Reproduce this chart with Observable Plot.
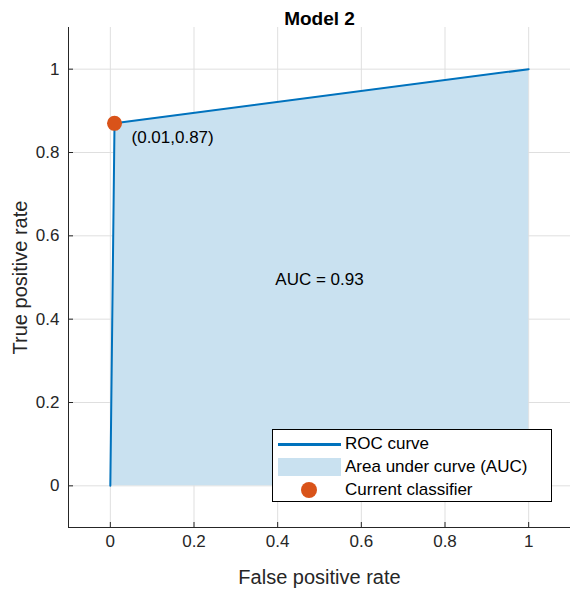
<!DOCTYPE html>
<html><head><meta charset="utf-8">
<script src="https://cdn.jsdelivr.net/npm/d3@7"></script>
<script src="https://cdn.jsdelivr.net/npm/@observablehq/plot@0.6"></script>
<style>
body{margin:0;font-family:"Liberation Sans",Arial,sans-serif;background:#fff;overflow:hidden}
#wrap{position:relative;width:572px;height:595px}
#legend{position:absolute;left:272px;top:429px;width:278px;height:71px;border:1px solid #000;background:#fff;font-size:17px;color:#000}
.row{position:absolute;left:0;height:22px;display:flex;align-items:center}
.row span.t{position:absolute;left:72px;white-space:nowrap}
#grafico svg text{font-size:17px}
</style></head>
<body>
<div id="wrap"><div id="grafico"></div>
<div id="legend">
 <div class="row" style="top:3px"><div style="position:absolute;left:5px;width:63px;height:3px;background:#0072BD;top:10px"></div><span class="t">ROC curve</span></div>
 <div class="row" style="top:26px"><div style="position:absolute;left:5px;width:63px;height:18px;background:#c9e1f0;top:2px"></div><span class="t">Area under curve (AUC)</span></div>
 <div class="row" style="top:49px"><div style="position:absolute;left:28px;width:16px;height:16px;border-radius:50%;background:#D95319;top:3px"></div><span class="t">Current classifier</span></div>
</div></div>
<script>
// puntos de la curva ROC
let fpr = [0, 0.01, 1];
let tpr = [0, 0.87, 1];
let current = {x: 0.01, y: 0.87};
let ticks = [0, 0.2, 0.4, 0.6, 0.8, 1];

let roc = fpr.map((d, i) => ({x: d, y: tpr[i]}));

let chart = Plot.plot({
  width: 572, height: 595,
  marginLeft: 68, marginRight: 2, marginTop: 27, marginBottom: 68,
  style: {fontFamily: "Liberation Sans, Arial, sans-serif", color: "#262626"},
  x: {domain: [-0.1, 1.1], ticks: ticks, tickFormat: d => String(d), grid: false},
  y: {domain: [-0.1, 1.1], ticks: ticks, tickFormat: d => String(d)},
  marks: [
    Plot.gridX(ticks, {stroke: "#dfdfdf", strokeOpacity: 1}),
    Plot.gridY(ticks, {stroke: "#dfdfdf", strokeOpacity: 1}),
    Plot.areaY(roc, {x: "x", y: "y", fill: "#c9e1f0"}),
    Plot.line(roc, {x: "x", y: "y", stroke: "#0072BD", strokeWidth: 2}),
    Plot.dot([current], {x: "x", y: "y", r: 7.5, fill: "#D95319"}),
    Plot.text([current], {x: "x", y: "y", text: d => `(${d.x},${d.y})`, textAnchor: "start", dx: 17, dy: 14, fill: "#000"}),
    Plot.text(["AUC = 0.93"], {x: 0.5, y: 0.495, fill: "#000"}),
    Plot.axisX({ticks: ticks, tickSize: -5, tickPadding: 12, label: "False positive rate", labelAnchor: "center", labelArrow: "none", labelOffset: 56, tickFormat: d => String(d)}),
    Plot.axisY({ticks: ticks, tickSize: -5, tickPadding: 14, label: "True positive rate", labelAnchor: "center", labelArrow: "none", labelOffset: 56, tickFormat: d => String(d)}),
    Plot.ruleY([-0.1], {stroke: "#262626"}),
    Plot.ruleX([-0.1], {stroke: "#262626"}),
    Plot.text(["Model 2"], {frameAnchor: "top", dy: -16, fontWeight: "bold", fill: "#000"})
  ]
});
d3.select('#grafico').append(() => chart);
d3.select(chart).selectAll('[aria-label="x-axis label"] text, [aria-label="y-axis label"] text').style("font-size", "20px");
d3.select(chart).selectAll('text').filter(function(){ return this.textContent === "Model 2"; }).style("font-size", "19px");
</script></body></html>
